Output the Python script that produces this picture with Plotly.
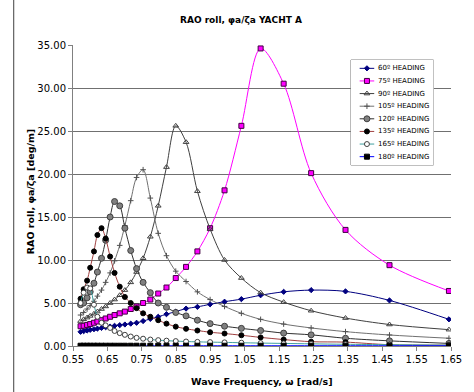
import plotly.graph_objects as go

# Wave frequencies (rad/s), shared by all headings
freq = [0.572, 0.581, 0.591, 0.600, 0.611, 0.621, 0.633, 0.645, 0.658, 0.671,
        0.686, 0.701, 0.718, 0.735, 0.754, 0.775, 0.798, 0.822, 0.849, 0.879,
        0.912, 0.949, 0.991, 1.040, 1.096, 1.163, 1.243, 1.343, 1.471, 1.644]

rao_60 = [1.65, 1.72, 1.80, 1.88, 1.95, 2.02, 2.10, 2.18, 2.26, 2.35,
          2.42, 2.50, 2.60, 2.70, 2.90, 3.15, 3.40, 3.70, 4.00, 4.35,
          4.55, 4.85, 5.15, 5.45, 5.90, 6.30, 6.50, 6.35, 5.30, 3.10]
rao_75 = [2.30, 2.35, 2.45, 2.55, 2.70, 2.85, 3.00, 3.20, 3.40, 3.60,
          3.80, 4.00, 4.30, 4.60, 5.00, 5.40, 6.10, 6.80, 7.90, 9.20,
          11.00, 13.70, 18.10, 25.60, 34.60, 30.50, 20.10, 13.50, 9.40, 6.40]
rao_90 = [2.90, 3.10, 3.30, 3.50, 3.75, 4.00, 4.30, 4.60, 5.00, 5.40,
          5.90, 6.50, 7.40, 8.60, 10.20, 12.70, 16.30, 20.80, 25.60, 23.70,
          18.00, 13.60, 10.00, 7.90, 6.20, 5.10, 4.10, 3.25, 2.50, 1.90]
rao_105 = [3.60, 3.90, 4.30, 4.70, 5.20, 5.80, 6.50, 7.40, 8.50, 9.90,
           11.70, 14.00, 16.90, 19.60, 20.50, 17.20, 13.10, 10.50, 8.70, 7.50,
           6.30, 5.40, 4.60, 3.80, 3.10, 2.55, 2.10, 1.67, 1.28, 0.90]
rao_120 = [4.80, 5.00, 5.60, 6.30, 7.30, 8.60, 10.20, 12.30, 15.00, 16.80,
           16.30, 13.70, 11.10, 9.00, 7.40, 6.20, 5.00, 4.50, 3.90, 3.50,
           3.00, 2.60, 2.30, 2.05, 1.80, 1.50, 1.30, 0.90, 0.60, 0.30]
rao_135 = [5.50, 6.60, 7.60, 9.10, 11.00, 12.90, 13.70, 12.50, 10.40, 8.50,
           6.90, 5.70, 5.00, 4.40, 3.80, 3.40, 3.00, 2.60, 2.25, 2.00,
           1.80, 1.60, 1.45, 1.25, 1.00, 0.75, 0.50, 0.45, 0.15, 0.10]
rao_165 = [5.00, 6.20, 6.80, 6.70, 4.80, 3.40, 2.70, 2.40, 2.10, 1.75,
           1.50, 1.30, 1.10, 0.95, 0.85, 0.75, 0.68, 0.62, 0.57, 0.52,
           0.48, 0.45, 0.42, 0.38, 0.34, 0.30, 0.25, 0.20, 0.15, 0.10]
rao_180 = [0.03, 0.03, 0.03, 0.03, 0.03, 0.03, 0.03, 0.03, 0.03, 0.03,
           0.03, 0.03, 0.03, 0.03, 0.03, 0.03, 0.03, 0.03, 0.03, 0.03,
           0.03, 0.03, 0.03, 0.03, 0.03, 0.03, 0.03, 0.03, 0.03, 0.03]

names = ["60º HEADING", "75º HEADING", "90º HEADING", "105º HEADING",
         "120º HEADING", "135º HEADING", "165º HEADING", "180º HEADING"]
series = [rao_60, rao_75, rao_90, rao_105, rao_120, rao_135, rao_165, rao_180]

x_ticks = [0.55, 0.65, 0.75, 0.85, 0.95, 1.05, 1.15, 1.25, 1.35, 1.45, 1.55, 1.65]
y_ticks = [0, 5, 10, 15, 20, 25, 30, 35]

styles = [
    dict(line="#000080", sym="diamond", size=4, fill="#000080", edge="#000080"),
    dict(line="#FF00FF", sym="square", size=5, fill="#FF00FF", edge="#400040"),
    dict(line="#404040", sym="triangle-up-open", size=5, fill="#404040", edge="#404040"),
    dict(line="#707070", sym="cross-thin-open", size=4, fill="#505050", edge="#505050"),
    dict(line="#303030", sym="circle", size=6, fill="#808080", edge="#404040"),
    dict(line="#A04040", sym="circle", size=5, fill="#000000", edge="#000000"),
    dict(line="#40A0A0", sym="circle", size=5, fill="#FFFFFF", edge="#404040"),
    dict(line="#0000FF", sym="square", size=5, fill="#000000", edge="#000000"),
]

FONT = "DejaVu Sans"
fig = go.Figure()

for name, vals, st in zip(names, series, styles):
    fig.add_trace(go.Scatter(
        x=freq, y=vals, mode="lines+markers", name=name, showlegend=False,
        line=dict(color=st["line"], width=1, shape="spline", smoothing=0.9),
        marker=dict(symbol=st["sym"], size=st["size"], color=st["fill"],
                    line=dict(color=st["edge"], width=1)),
        xaxis="x", yaxis="y"))

# custom compact legend (Excel style) on its own small subplot
for i, (name, st) in enumerate(zip(names, styles)):
    fig.add_trace(go.Scatter(
        x=[9, 24], y=[i, i], mode="lines", showlegend=False, hoverinfo="skip",
        line=dict(color=st["line"], width=1), xaxis="x2", yaxis="y2"))
    fig.add_trace(go.Scatter(
        x=[16.5], y=[i], mode="markers", showlegend=False, hoverinfo="skip",
        marker=dict(symbol=st["sym"], size=st["size"], color=st["fill"],
                    line=dict(color=st["edge"], width=1)),
        xaxis="x2", yaxis="y2"))
    fig.add_annotation(x=26, y=i, xref="x2", yref="y2", text=name,
                       showarrow=False, xanchor="left", yanchor="middle",
                       font=dict(family=FONT, size=7, color="#000000"))

fig.add_shape(type="rect", xref="x2 domain", yref="y2 domain",
              x0=0, x1=1, y0=0, y1=1, layer="below",
              fillcolor="#FFFFFF", line=dict(color="#808080", width=1))

W, H = 474, 392
L, R, T, B = 73, 12, 45, 46
pw, ph = W - L - R, H - T - B

def px(xp):
    return (xp - L) / pw

def py(yp):
    return (H - B - yp) / ph

fig.update_layout(
    width=W, height=H,
    margin=dict(l=L, r=R, t=T, b=B, pad=0),
    paper_bgcolor="#FFFFFF", plot_bgcolor="#FFFFFF",
    font=dict(family=FONT, size=10, color="#000000"),
    xaxis=dict(range=[0.55, 1.65], tickvals=x_ticks, tickformat=".2f",
               showgrid=False, zeroline=False, showline=True,
               linecolor="#808080", linewidth=1, ticks="outside", ticklen=4,
               tickcolor="#808080", tickfont=dict(size=10)),
    yaxis=dict(range=[0, 35], tickvals=y_ticks, tickformat=".2f",
               showgrid=True, gridcolor="#707070", gridwidth=1,
               zeroline=False, showline=True, linecolor="#808080",
               linewidth=1, ticks="outside", ticklen=4, tickcolor="#808080",
               tickfont=dict(size=10)),
    xaxis2=dict(domain=[px(359), px(444)], range=[0, 85], visible=False,
                fixedrange=True),
    yaxis2=dict(domain=[py(165), py(60)], range=[7.66, -0.66], visible=False,
                fixedrange=True),
    showlegend=False,
)

# chart titles
fig.add_annotation(x=px(246), y=py(20), xref="paper", yref="paper",
                   text="<b>RAO roll, φa/ζa YACHT A</b>", showarrow=False,
                   xanchor="center", yanchor="middle",
                   font=dict(family=FONT, size=9))
fig.add_annotation(x=0.5, y=py(381), xref="paper", yref="paper",
                   text="<b>Wave Frequency, ω [rad/s]</b>", showarrow=False,
                   xanchor="center", yanchor="middle",
                   font=dict(family=FONT, size=9.5))
fig.add_annotation(x=px(29), y=py(192), xref="paper", yref="paper",
                   text="<b>RAO roll, φa/ζa [deg/m]</b>", showarrow=False,
                   textangle=-90, xanchor="center", yanchor="middle",
                   font=dict(family=FONT, size=9.5))

# chart-area left border
fig.add_shape(type="line", xref="paper", yref="paper",
              x0=px(12), x1=px(12), y0=py(392), y1=py(0),
              line=dict(color="#404040", width=1))

fig.write_html("out.html")
